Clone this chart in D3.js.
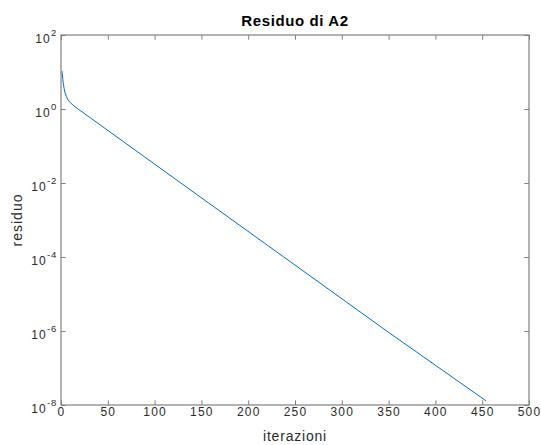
<!DOCTYPE html>
<html>
<head>
<meta charset="utf-8">
<script src="https://cdn.jsdelivr.net/npm/d3@7"></script>
<style>
  html, body { margin: 0; padding: 0; background: #fff; }
  svg { display: block; }
  text { font-family: "Liberation Sans", Arial, Helvetica, sans-serif; }
</style>
</head>
<body>
<svg id="chart" width="541" height="445"></svg>
<script>
// Data
const iterations = [1, 2, 2.5, 3.3, 4.3, 5.8, 7.8, 10, 13, 18, 29, 128, 238, 348, 454];
const residuals  = [10.7, 6.31, 4.9, 3.63, 2.75, 2.14, 1.72, 1.48, 1.26, 1.01, 0.638, 1e-2, 1e-4, 1e-6, 1.3e-8];
const xTicks = [0, 50, 100, 150, 200, 250, 300, 350, 400, 450, 500];
const yTickExponents = [2, 0, -2, -4, -6, -8];
const titleText = "Residuo di A2";
const xLabelText = "iterazioni";
const yLabelText = "residuo";

const svg = d3.select("#chart");
const W = 541, H = 445;
const m = { left: 61, right: 12, top: 35, bottom: 40 };
const x0 = m.left, x1 = W - m.right, y0 = m.top, y1 = H - m.bottom;

svg.append("rect").attr("width", W).attr("height", H).attr("fill", "#fff");

const x = d3.scaleLinear().domain([0, 500]).range([x0, x1]);
const y = d3.scaleLog().domain([1e-8, 1e2]).range([y1, y0]);

const axisColor = "#808080";
const textColor = "#2b2b2b";
const tickLen = 4.7;

// Data line
const data = iterations.map((d, i) => ({ it: d, r: residuals[i] }));
const line = d3.line().x(d => x(d.it)).y(d => y(d.r));
svg.append("path")
  .datum(data)
  .attr("d", line)
  .attr("fill", "none")
  .attr("stroke", "#0072BD")
  .attr("stroke-width", 1)
  .attr("stroke-linejoin", "round");

// Axes via d3 axis generators (inward ticks)
const xAxisB = d3.axisBottom(x).tickValues(xTicks).tickSize(-tickLen).tickFormat(d3.format("d"));
const xAxisT = d3.axisTop(x).tickValues(xTicks).tickSize(-tickLen).tickFormat("");
const yVals = yTickExponents.map(e => Math.pow(10, e));
const yAxisL = d3.axisLeft(y).tickValues(yVals).tickSize(-tickLen).tickFormat("");
const yAxisR = d3.axisRight(y).tickValues(yVals).tickSize(-tickLen).tickFormat("");

function styleAxis(g) {
  g.select(".domain").remove();
  g.selectAll(".tick line").attr("stroke", axisColor).attr("stroke-width", 1);
}

const gxb = svg.append("g").attr("transform", `translate(0,${y1})`).call(xAxisB).call(styleAxis);
gxb.selectAll(".tick text")
  .attr("y", 11)
  .attr("dy", 0)
  .attr("fill", textColor)
  .style("font-size", "12px")
  .style("letter-spacing", "1.2px")
  .style("font-family", '"Liberation Sans", Arial, sans-serif');
svg.append("g").attr("transform", `translate(0,${y0})`).call(xAxisT).call(styleAxis);
svg.append("g").attr("transform", `translate(${x0},0)`).call(yAxisL).call(styleAxis);
svg.append("g").attr("transform", `translate(${x1},0)`).call(yAxisR).call(styleAxis);

// Y tick labels as 10^n
const yl = svg.append("g");
yTickExponents.forEach(e => {
  const ty = y(Math.pow(10, e));
  const t = yl.append("text")
    .attr("x", x0 - 4)
    .attr("y", ty + 7.5)
    .attr("text-anchor", "end")
    .attr("fill", textColor)
    .style("font-size", "12px")
    .style("letter-spacing", "1.2px");
  t.append("tspan").text("10");
  t.append("tspan")
    .attr("dy", -7)
    .style("font-size", "9.5px")
    .style("letter-spacing", "0.8px")
    .text(String(e));
});

// Box
svg.append("rect")
  .attr("x", x0).attr("y", y0)
  .attr("width", x1 - x0).attr("height", y1 - y0)
  .attr("fill", "none")
  .attr("stroke", axisColor)
  .attr("stroke-width", 1.2);

// Title
svg.append("text")
  .attr("x", (x0 + x1) / 2)
  .attr("y", 26)
  .attr("text-anchor", "middle")
  .attr("fill", "#000")
  .style("font-size", "15px")
  .style("font-weight", "bold")
  .style("letter-spacing", "0.6px")
  .text(titleText);

// X label
svg.append("text")
  .attr("x", (x0 + x1) / 2)
  .attr("y", 441)
  .attr("text-anchor", "middle")
  .attr("fill", textColor)
  .style("font-size", "14px")
  .style("letter-spacing", "0.8px")
  .text(xLabelText);

// Y label
svg.append("text")
  .attr("transform", `translate(22,${(y0 + y1) / 2}) rotate(-90)`)
  .attr("text-anchor", "middle")
  .attr("fill", textColor)
  .style("font-size", "14px")
  .style("letter-spacing", "1px")
  .text(yLabelText);
</script>
</body>
</html>
